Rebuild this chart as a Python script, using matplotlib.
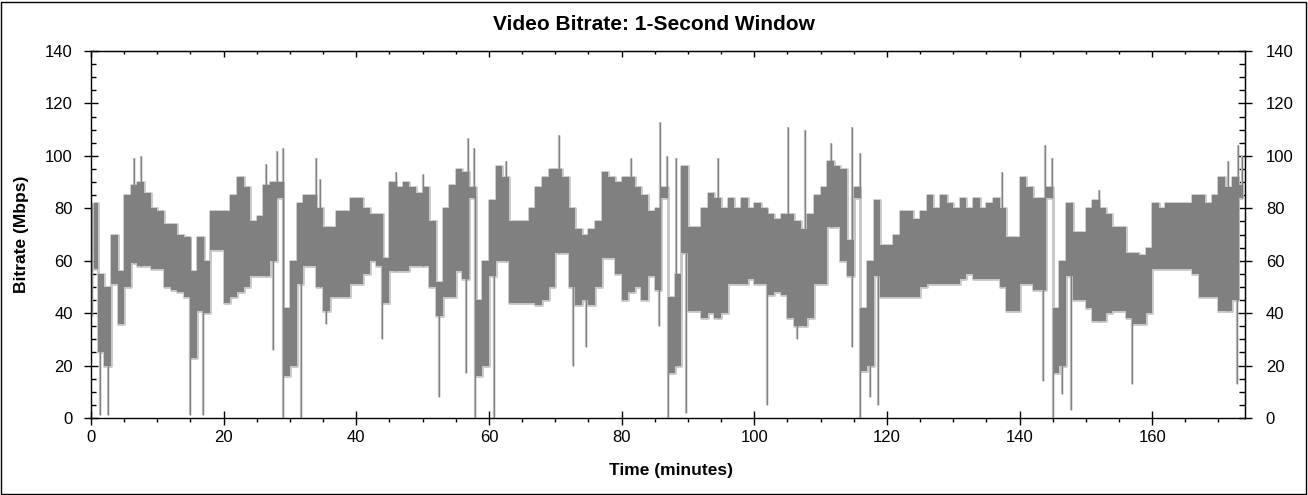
import numpy as np
import matplotlib
matplotlib.use('Agg')
import matplotlib.pyplot as plt
from matplotlib.ticker import MultipleLocator
from matplotlib.patches import Rectangle

# 1-minute bins: envelope of the dense 1-second bitrate trace (Mbps)
minutes = list(range(174))
band_low = [57, 25, 20, 51, 36, 50, 59, 58, 58, 57,
            57, 50, 49, 48, 46, 23, 41, 40, 64, 64,
            44, 46, 48, 50, 54, 54, 54, 60, 84, 16,
            20, 51, 58, 58, 50, 41, 46, 46, 46, 51,
            51, 55, 60, 58, 44, 56, 56, 56, 58, 58,
            58, 50, 39, 46, 46, 56, 53, 84, 16, 20,
            54, 60, 60, 44, 44, 44, 44, 43, 45, 50,
            63, 63, 50, 43, 45, 43, 50, 61, 61, 55,
            45, 48, 50, 45, 54, 49, 84, 17, 20, 63,
            41, 41, 38, 40, 38, 40, 51, 51, 51, 53,
            51, 51, 47, 48, 47, 38, 35, 35, 38, 51,
            51, 73, 73, 60, 54, 84, 18, 20, 54, 46,
            46, 46, 46, 46, 46, 50, 51, 51, 51, 51,
            51, 53, 55, 53, 53, 53, 53, 50, 41, 41,
            51, 51, 49, 49, 84, 17, 20, 54, 45, 45,
            42, 37, 37, 40, 41, 41, 38, 36, 36, 40,
            57, 57, 57, 57, 57, 57, 55, 46, 46, 46,
            41, 41, 45, 84]
band_high = [82, 55, 50, 70, 56, 85, 89, 90, 86, 80,
             79, 74, 74, 70, 69, 56, 69, 60, 79, 79,
             79, 85, 92, 88, 75, 77, 89, 90, 90, 42,
             60, 82, 85, 85, 80, 73, 73, 79, 79, 84,
             84, 80, 78, 78, 61, 90, 88, 90, 88, 86,
             88, 75, 52, 80, 89, 95, 94, 88, 45, 60,
             83, 96, 92, 75, 75, 75, 80, 88, 92, 95,
             95, 92, 80, 72, 70, 72, 75, 94, 92, 90,
             92, 92, 88, 85, 79, 80, 88, 46, 55, 96,
             73, 73, 80, 86, 84, 80, 84, 80, 84, 80,
             82, 80, 78, 76, 78, 78, 75, 72, 78, 85,
             88, 98, 96, 95, 68, 88, 42, 60, 83, 66,
             66, 70, 79, 79, 76, 79, 85, 80, 85, 82,
             80, 84, 80, 84, 80, 82, 84, 80, 69, 69,
             92, 88, 84, 84, 88, 42, 60, 82, 71, 71,
             80, 83, 80, 78, 73, 73, 63, 63, 62, 65,
             82, 80, 82, 82, 82, 82, 85, 85, 82, 85,
             92, 88, 92, 89]

# isolated upward peaks (minute, Mbps)
spike_times = [6.5, 7.6, 26.4, 28.0, 28.9, 33.9, 34.5, 46.0, 50.0, 56.8,
               57.8, 62.5, 70.6, 81.4, 85.8, 86.9, 88.2, 94.6, 105.1, 107.6,
               111.6, 114.8, 115.9, 137.4, 143.8, 144.9, 152.0, 171.4, 172.9, 173.5]
spike_values = [99, 100, 97, 102, 103, 99, 91, 94, 93, 107,
                103, 98, 108, 99, 113, 100, 99, 99, 111, 110,
                105, 111, 101, 94, 104, 99, 87, 98, 104, 100]

# isolated downward drops (minute, Mbps)
dip_times = [0.1, 1.3, 2.6, 14.9, 16.9, 27.5, 28.9, 31.6, 35.5, 43.9,
             52.5, 56.6, 57.9, 60.7, 72.7, 74.7, 85.6, 87.0, 89.7, 101.9,
             106.5, 114.8, 116.0, 117.4, 118.7, 143.6, 145.0, 146.4, 147.8, 156.9,
             172.8]
dip_values = [39, 1, 1, 1, 1, 26, 0, 0, 36, 30,
              8, 17, 0, 0, 20, 27, 35, 0, 2, 5,
              30, 27, 0, 8, 5, 14, 0, 9, 3, 13,
              13]

x_ticks = [0, 20, 40, 60, 80, 100, 120, 140, 160]
y_ticks = [0, 20, 40, 60, 80, 100, 120, 140]

plt.rcParams['font.family'] = ['Liberation Sans', 'DejaVu Sans']

W, H = 1308, 495
fig = plt.figure(figsize=(W / 100, H / 100), dpi=100)
fig.patches.append(Rectangle((1 / W, 1 / H), (W - 3) / W, (H - 3) / H,
                             transform=fig.transFigure, fill=False,
                             edgecolor='black', linewidth=1))

ax = fig.add_axes([91 / W, 77 / H, 1154 / W, 367 / H])

dark = '#808080'
light = '#c8c8c8'
xc = np.array(minutes) + 0.5
lo = np.array(band_low, dtype=float)
hi = np.array(band_high, dtype=float)

ax.fill_between(xc, lo, hi, step='mid', facecolor=light, edgecolor=light,
                linewidth=2.0, zorder=2)
ax.fill_between(xc, lo, hi, step='mid', facecolor=dark, edgecolor='none',
                linewidth=0, zorder=3)

st = np.array(spike_times)
sb = lo[np.minimum(st.astype(int), len(lo) - 1)]
ax.vlines(st, sb, spike_values, color=light, linewidth=1.6, zorder=2)
ax.vlines(st, sb, spike_values, color=dark, linewidth=1.0, zorder=3)

dt = np.array(dip_times)
db = hi[np.minimum(dt.astype(int), len(hi) - 1)]
ax.vlines(dt, dip_values, db, color=light, linewidth=1.6, zorder=2)
ax.vlines(dt, dip_values, db, color=dark, linewidth=1.0, zorder=3)

ax.set_xlim(0, 174)
ax.set_ylim(0, 140)
ax.set_xticks(x_ticks)
ax.set_yticks(y_ticks)
ax.xaxis.set_minor_locator(MultipleLocator(5))
ax.yaxis.set_minor_locator(MultipleLocator(5))

for s in ax.spines.values():
    s.set_linewidth(1.0)
    s.set_color('black')

ax.tick_params(axis='x', which='major', direction='inout', length=10, width=1,
               labelsize=12, pad=4, top=False, bottom=True)
ax.tick_params(axis='x', which='minor', direction='out', length=3, width=1,
               top=False, bottom=True)
ax.tick_params(axis='y', which='major', direction='inout', length=10, width=1,
               labelsize=12, pad=8, left=True, right=False)
ax.tick_params(axis='y', which='minor', direction='in', length=3.5, width=1,
               left=True, right=False)

top = ax.secondary_xaxis('top')
top.set_xticks(x_ticks)
top.xaxis.set_minor_locator(MultipleLocator(5))
top.tick_params(axis='x', which='major', direction='in', length=4.5, width=1,
                labeltop=False)
top.tick_params(axis='x', which='minor', direction='in', length=2, width=1)

right = ax.secondary_yaxis('right')
right.set_yticks(y_ticks)
right.yaxis.set_minor_locator(MultipleLocator(5))
right.tick_params(axis='y', which='major', direction='inout', length=10, width=1,
                  labelsize=12, pad=10)
right.tick_params(axis='y', which='minor', direction='in', length=4, width=1)

fig.text(0.5, 1 - 25 / H, 'Video Bitrate: 1-Second Window',
         ha='center', va='center', fontsize=15, fontweight='bold')
fig.text(671 / W, 1 - 470 / H, 'Time (minutes)',
         ha='center', va='center', fontsize=12.5, fontweight='bold')
fig.text(22 / W, 1 - 234 / H, 'Bitrate (Mbps)', rotation=90,
         ha='center', va='center', fontsize=12.5, fontweight='bold')

fig.savefig('out.png', dpi=100)
